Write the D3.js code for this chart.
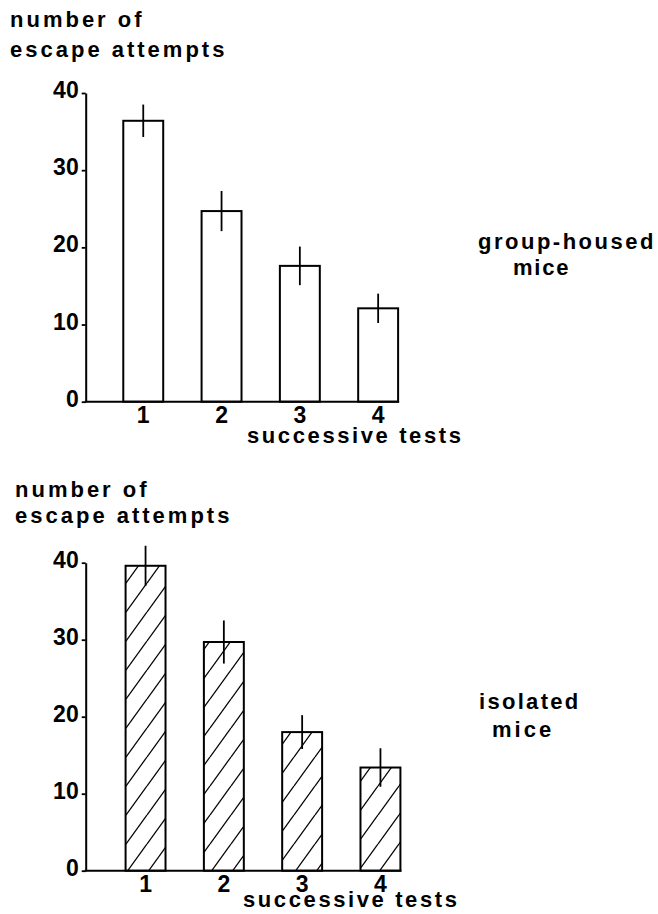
<!DOCTYPE html>
<html>
<head>
<meta charset="utf-8">
<script src="https://cdn.jsdelivr.net/npm/d3@7"></script>
<style>
  html, body { margin: 0; padding: 0; background: #fff; }
  svg { display: block; }
  text { font-family: "Liberation Sans", Arial, Helvetica, sans-serif; font-weight: bold; fill: #000; }
</style>
</head>
<body>
<svg id="chart" width="658" height="914"></svg>
<script>
// Successive tests of escape behaviour
const tests = ["1", "2", "3", "4"];
const groupMeans = [36.4, 24.7, 17.6, 12.1];
const groupErr = [2.1, 2.6, 2.5, 1.9];
const isolatedMeans = [39.6, 29.7, 18.0, 13.4];
const isolatedErr = [2.6, 2.8, 2.2, 2.5];
const yTicks = [0, 10, 20, 30, 40];
const yTitleLines = ["number of", "escape attempts"];
const xTitle = "successive tests";
const groupLabel = ["group-housed", "mice"];
const isolatedLabel = ["isolated", "mice"];

const svg = d3.select("#chart");

// diagonal hatch used for the isolated-mice bars
const defs = svg.append("defs");
const hatch = defs.append("pattern")
  .attr("id", "hatch")
  .attr("patternUnits", "userSpaceOnUse")
  .attr("width", 21).attr("height", 29)
  .attr("x", 0).attr("y", 3);
hatch.append("rect").attr("width", 21).attr("height", 29).attr("fill", "#fff");
[-21, 0, 21].forEach(dx => {
  hatch.append("line")
    .attr("x1", dx).attr("y1", 29)
    .attr("x2", dx + 21).attr("y2", 0)
    .attr("stroke", "#000").attr("stroke-width", 1.3);
});

function drawPanel(p) {
  const g = svg.append("g");
  const y = d3.scaleLinear().domain([0, 40]).range([p.y0, p.y40]);
  const x = d3.scaleBand().domain(tests)
    .range([p.xStart, p.xStart + 350])
    .paddingInner(0.49).paddingOuter(0.48);

  // y-axis title (two lines)
  yTitleLines.forEach((t, i) => {
    g.append("text")
      .attr("x", p.titleX).attr("y", p.titleY[i])
      .attr("font-size", 22).attr("letter-spacing", 3)
      .text(t);
  });

  // y axis
  const yAxis = d3.axisLeft(y).tickValues(yTicks).tickSize(4).tickSizeOuter(0).tickPadding(3);
  const ya = g.append("g").attr("transform", `translate(${p.axisX},0)`).call(yAxis);
  ya.select(".domain").attr("stroke", "#000").attr("stroke-width", 2);
  ya.selectAll(".tick line").attr("stroke", "#000").attr("stroke-width", 1.8);
  ya.selectAll(".tick text")
    .attr("font-size", 23).attr("font-family", "'Liberation Sans', Arial, sans-serif")
    .attr("font-weight", "bold").attr("dy", "0.2em").attr("fill", "#000");

  // bars
  const last = tests[tests.length - 1];
  g.selectAll("rect.bar").data(tests).join("rect")
    .attr("class", "bar")
    .attr("x", d => x(d))
    .attr("width", x.bandwidth())
    .attr("y", (d, i) => y(p.means[i]))
    .attr("height", (d, i) => y(0) - y(p.means[i]))
    .attr("fill", p.fill)
    .attr("stroke", "#000").attr("stroke-width", 2);

  // error bars
  g.selectAll("line.err").data(tests).join("line")
    .attr("class", "err")
    .attr("x1", d => x(d) + x.bandwidth() / 2)
    .attr("x2", d => x(d) + x.bandwidth() / 2)
    .attr("y1", (d, i) => y(p.means[i] + p.errs[i]))
    .attr("y2", (d, i) => y(p.means[i] - p.errs[i]))
    .attr("stroke", "#000").attr("stroke-width", 1.8);

  // baseline from the y axis to the last bar
  g.append("line")
    .attr("x1", p.axisX - 1).attr("x2", x(last) + x.bandwidth() + 1)
    .attr("y1", y(0)).attr("y2", y(0))
    .attr("stroke", "#000").attr("stroke-width", 2);

  // x tick labels
  const xAxis = d3.axisBottom(x).tickSize(0).tickPadding(5);
  const xa = g.append("g").attr("transform", `translate(0,${y(0)})`).call(xAxis);
  xa.select(".domain").remove();
  xa.selectAll(".tick text")
    .attr("font-size", 23).attr("font-family", "'Liberation Sans', Arial, sans-serif")
    .attr("font-weight", "bold").attr("fill", "#000");

  // x-axis title
  g.append("text")
    .attr("x", p.xTitleX).attr("y", y(0) + p.xTitleGap)
    .attr("font-size", 22).attr("letter-spacing", 2.6)
    .text(xTitle);

  // group label at the right
  p.label.forEach((t, i) => {
    g.append("text")
      .attr("x", p.labelX[i]).attr("y", p.labelY[i])
      .attr("font-size", 22).attr("letter-spacing", p.labelSpacing[i])
      .text(t);
  });
}

drawPanel({
  y0: 401.7, y40: 93, axisX: 85.7, xStart: 85.7,
  means: groupMeans, errs: groupErr, fill: "#fff",
  titleX: 10, titleY: [27, 57],
  xTitleX: 247, xTitleGap: 41.5,
  label: groupLabel, labelX: [478, 513], labelY: [249, 275], labelSpacing: [2.5, 1.8]
});

drawPanel({
  y0: 870.7, y40: 562.7, axisX: 85.7, xStart: 88,
  means: isolatedMeans, errs: isolatedErr, fill: "url(#hatch)",
  titleX: 15, titleY: [496.5, 523],
  xTitleX: 243, xTitleGap: 36,
  label: isolatedLabel, labelX: [479, 492], labelY: [709, 736.5], labelSpacing: [2.3, 3]
});
</script>
</body>
</html>
